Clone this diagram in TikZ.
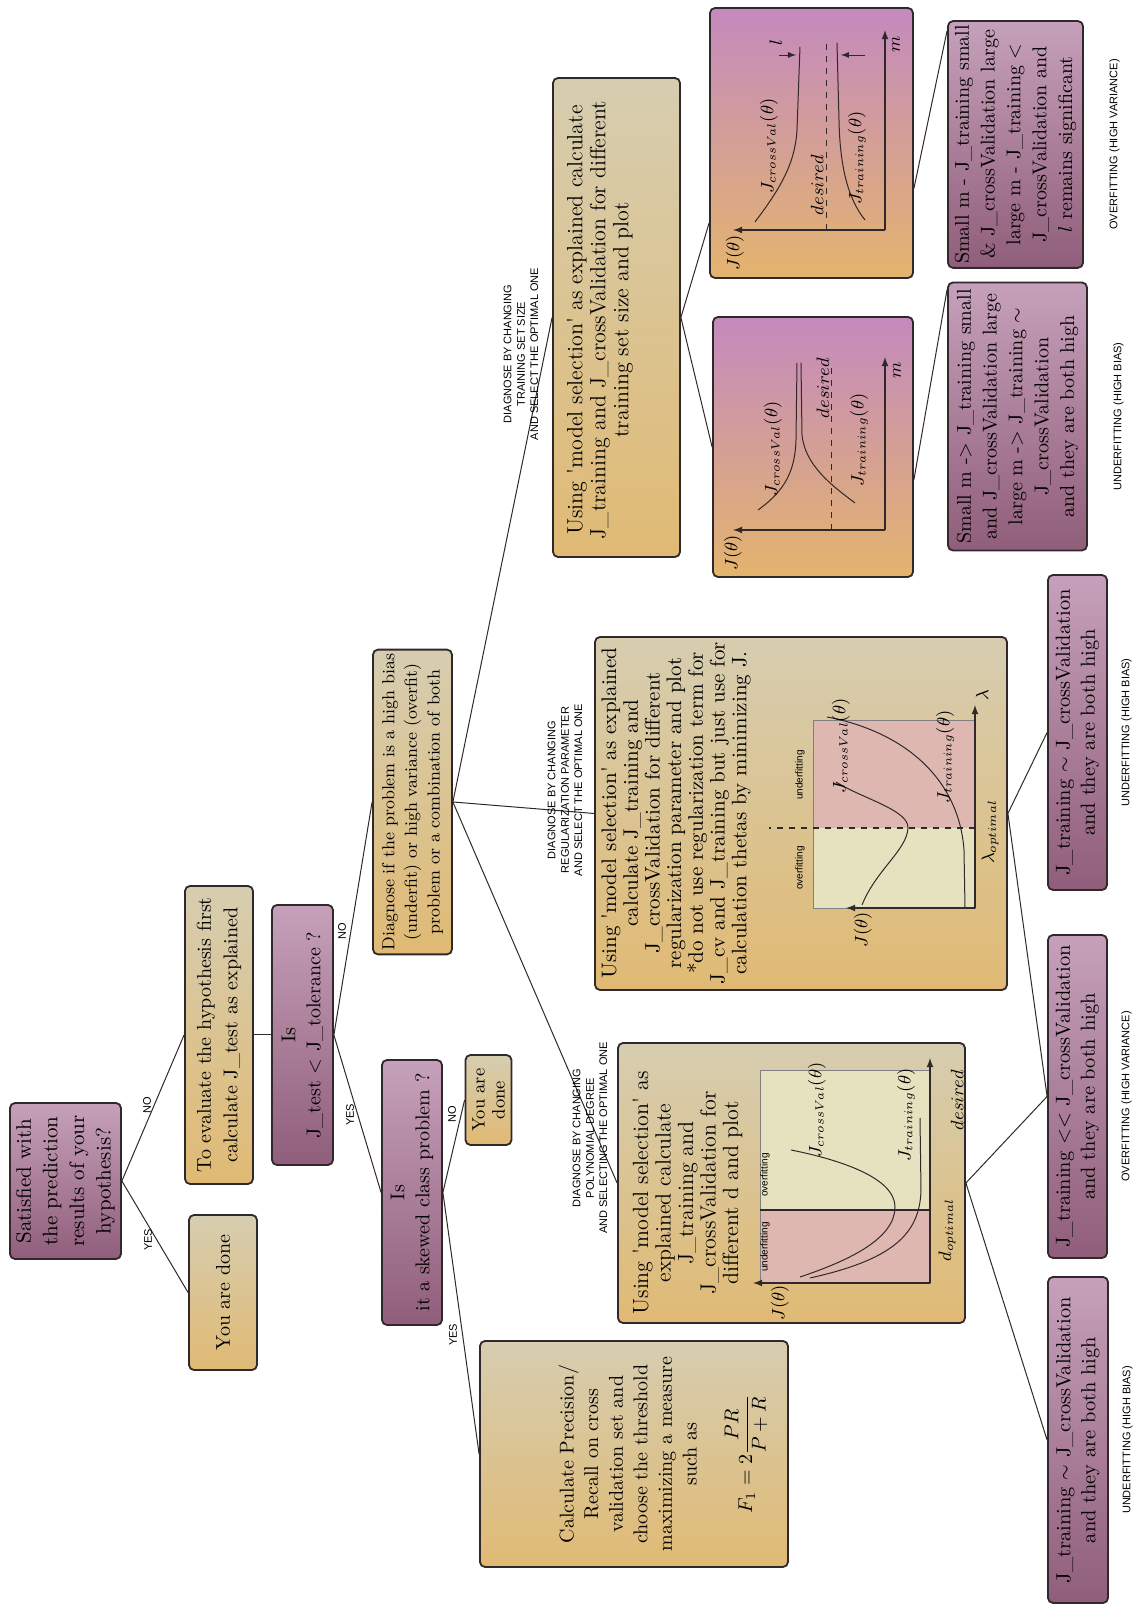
\documentclass[tikz,border=0pt]{standalone}
\usepackage{fontspec}
\usepackage{amsmath}
\newfontfamily\capsfont{Liberation Sans}
\usetikzlibrary{positioning}

\definecolor{tanlight}{RGB}{214,205,176}
\definecolor{tandark}{RGB}{224,186,116}
\definecolor{mauvelight}{RGB}{198,160,186}
\definecolor{mauvedark}{RGB}{144,94,122}
\definecolor{curvepurple}{RGB}{196,138,190}
\definecolor{curveorange}{RGB}{228,180,110}
\definecolor{edgegray}{RGB}{48,40,42}
\definecolor{underpink}{RGB}{222,184,176}
\definecolor{overlight}{RGB}{230,226,192}

\tikzset{
  >=latex,
  card/.style={draw=edgegray, line width=0.9pt, rounded corners=2.5pt,
    align=center, inner sep=2pt},
  tancard/.style={card, top color=tanlight, bottom color=tandark},
  mauvecard/.style={card, top color=mauvelight, bottom color=mauvedark},
  curvecard/.style={card, top color=curvepurple, bottom color=curveorange},
  linkline/.style={draw=edgegray, line width=0.5pt},
  branchlabel/.style={font={\capsfont\fontsize{5.5}{6.7}\selectfont},
    align=center, inner sep=0.5pt},
  regionlabel/.style={font={\capsfont\fontsize{5}{6}\selectfont}, inner sep=0.5pt},
  plotaxis/.style={->, line width=0.6pt, draw=edgegray},
  plotcurve/.style={line width=0.5pt, draw=edgegray},
  plotlabel/.style={font={\fontsize{9}{10}\selectfont}, inner sep=0.5pt},
}

\begin{document}
\begin{tikzpicture}[x=0.5pt, y=0.5pt, rotate=90, transform shape]
  \useasboundingbox (0,0) rectangle (1610,1141);

  % questions
  \node[mauvecard, minimum width=78pt, minimum height=55.5pt, font=\fontsize{10.5}{13.3}\selectfont] (root) at (429,1075.5) {Satisfied with\\the prediction\\results of your\\hypothesis?};
  \node[tancard, minimum width=77.5pt, minimum height=34pt, font=\fontsize{10}{13.3}\selectfont] (done1) at (317.5,918) {You are done};
  \node[tancard, minimum width=149pt, minimum height=34pt, font=\fontsize{10}{13.3}\selectfont] (eval) at (575,922) {To evaluate the hypothesis first\\calculate J\_test as explained};
  \node[mauvecard, minimum width=130pt, minimum height=30.5pt, font=\fontsize{10}{12.5}\selectfont] (jtest) at (575,838.5) {Is\\J\_test < J\_tolerance ?};
  \node[mauvecard, minimum width=132.5pt, minimum height=30pt, font=\fontsize{10}{12.5}\selectfont] (skew) at (417.5,729) {Is\\it a skewed class problem ?};
  \node[tancard, minimum width=45pt, minimum height=23pt, inner sep=1pt, font=\fontsize{9}{10}\selectfont] (done2) at (510,652.5) {You are\\done};
  \node[tancard, minimum width=150pt, minimum height=39.5pt, font=\fontsize{8.7}{11.3}\selectfont] (diag) at (808,728.5) {Diagnose if the problem is a high bias\\(underfit) or high variance (overfit)\\problem or a combination of both};

  % large boxes
  \node[tancard, minimum width=113pt, minimum height=154pt] (prec) at (156,507) {};
  \node[font=\fontsize{10}{12.3}\selectfont, align=center] (prectext) at (156,478) {Calculate Precision/\\Recall on cross\\validation set and\\choose the threshold\\maximizing a measure\\such as\\[13pt] $F_1 = 2\dfrac{PR}{P+R}$};
  \node[tancard, minimum width=140pt, minimum height=173.5pt] (poly) at (427,349.5) {};
  \node[font=\fontsize{11}{11.25}\selectfont, align=center] (polytext) at (417,453.5) {Using \textquotesingle model selection\textquotesingle{} as\\explained calculate\\J\_training and\\J\_crossValidation for\\different d and plot};
  \node[tancard, minimum width=176.5pt, minimum height=206pt] (reg) at (796.5,340) {};
  \node[font=\fontsize{10.5}{10.85}\selectfont, align=center] (regtext) at (797,465) {Using \textquotesingle model selection\textquotesingle{} as explained\\calculate J\_training and\\J\_crossValidation for different\\regularization parameter and plot\\*do not use regularization term for\\J\_cv and J\_training but just use for\\calculation thetas by minimizing J.};
  \node[tancard, minimum width=239.5pt, minimum height=63.5pt] (setsize) at (1292.5,524.5) {};
  \node[font=\fontsize{11}{11.5}\selectfont, align=center] (setsizetext) at (1290,541) {Using \textquotesingle model selection\textquotesingle{} as explained calculate\\J\_training and J\_crossValidation for different\\training set size and plot};
  \node[curvecard, minimum width=130pt, minimum height=100pt] (biasplot) at (1163,328) {};
  \node[curvecard, minimum width=135pt, minimum height=101.5pt] (varplot) at (1467,329.5) {};

  % leaves
  \node[mauvecard, minimum width=134pt, minimum height=69.5pt, font=\fontsize{10}{12.9}\selectfont] (biasnote) at (1193.5,123.5) {Small m -> J\_training small\\and J\_crossValidation large\\large m -> J\_training $\sim$\\J\_crossValidation\\and they are both high};
  \node[mauvecard, minimum width=122.5pt, minimum height=67.5pt, font=\fontsize{10}{12.9}\selectfont] (varnote) at (1465.5,125.5) {Small m - J\_training small\\\& J\_crossValidation large\\large m - J\_training <\\J\_crossValidation and\\$l$ remains significant};
  \node[mauvecard, minimum width=157.5pt, minimum height=29.5pt, font=\fontsize{10.2}{12.5}\selectfont] (leaf3) at (877.5,63.5) {J\_training $\sim$ J\_crossValidation\\and they are both high};
  \node[mauvecard, minimum width=161.5pt, minimum height=29.5pt, font=\fontsize{10.2}{12.5}\selectfont] (leaf2) at (513.5,63.5) {J\_training <\kern0pt< J\_crossValidation\\and they are both high};
  \node[mauvecard, minimum width=163pt, minimum height=30pt, font=\fontsize{10.2}{12.5}\selectfont] (leaf1) at (170,63) {J\_training $\sim$ J\_crossValidation\\and they are both high};

  % verdicts
  \node[branchlabel, below=6pt of leaf1] (verdict1) {UNDERFITTING (HIGH BIAS)};
  \node[branchlabel, below=6pt of leaf2] (verdict2) {OVERFITTING (HIGH VARIANCE)};
  \node[branchlabel, below=6pt of leaf3] (verdict3) {UNDERFITTING (HIGH BIAS)};
  \node[branchlabel, below=12pt of biasnote] (verdict4) {UNDERFITTING (HIGH BIAS)};
  \node[branchlabel, below=12pt of varnote] (verdict5) {OVERFITTING (HIGH VARIANCE)};

  % connectors
  \draw[linkline] (root.south) -- (done1.north);
  \draw[linkline] (root.south) -- (eval.north);
  \draw[linkline] (eval.south) -- (jtest.north);
  \draw[linkline] (jtest.south) -- (diag.north);
  \draw[linkline] (jtest.south) -- (skew.north);
  \draw[linkline] (skew.south) -- (done2.north);
  \draw[linkline] (skew.south) -- (prec.north);
  \draw[linkline] (diag.south) -- (poly.north);
  \draw[linkline] (diag.south) -- (reg.north);
  \draw[linkline] (diag.south) -- (setsize.north);
  \draw[linkline] (poly.south) -- (leaf1.north);
  \draw[linkline] (poly.south) -- (leaf2.north);
  \draw[linkline] (reg.south) -- (leaf2.north);
  \draw[linkline] (reg.south) -- (leaf3.north);
  \draw[linkline] (setsize.south) -- (biasplot.north);
  \draw[linkline] (setsize.south) -- (varplot.128);
  \draw[linkline] (biasplot.252) -- (biasnote.29);
  \draw[linkline] (varplot.246) -- (varnote.31);

  % answers on the links
  \node[branchlabel] (yes1) at (370,993) {YES};
  \node[branchlabel] (no1) at (505,994) {NO};
  \node[branchlabel] (no2) at (679,799) {NO};
  \node[branchlabel] (yes2) at (495,791) {YES};
  \node[branchlabel] (no3) at (496,689) {NO};
  \node[branchlabel] (yes3) at (275,688) {YES};
  \node[branchlabel] (degreelabel) at (472,551) {DIAGNOSE BY CHANGING\\POLYNOMIAL DEGREE\\AND SELECTING THE OPTIMAL ONE};
  \node[branchlabel] (lambdalabel) at (820,576) {DIAGNOSE BY CHANGING\\REGULARIZATION PARAMETER\\AND SELECT THE OPTIMAL ONE};
  \node[branchlabel] (sizelabel) at (1256,620) {DIAGNOSE BY CHANGING\\TRAINING SET SIZE\\AND SELECT THE OPTIMAL ONE};

  % degree plot
  \fill[underpink] (327,211) rectangle (400,381);
  \fill[overlight] (400,211) rectangle (540,381);
  \draw[gray, line width=0.3pt] (327,211) rectangle (540,381);
  \draw[edgegray, line width=0.9pt] (400,211) -- (400,381);
  \draw[plotaxis] (327,211) -- (327,388);
  \draw[plotaxis] (327,211) -- (552,211);
  \draw[plotcurve] (333,341) .. controls (350,290) and (372,246) .. (403,246) .. controls (432,246) and (450,300) .. (460,350);
  \draw[plotcurve] (332,331) .. controls (350,250) and (375,221) .. (420,220) -- (492,221);
  \node[regionlabel] (degunder) at (363,376) {underfitting};
  \node[regionlabel] (degover) at (435,376) {overfitting};
  \node[plotlabel] (degJ) at (307,361) {$J(\theta)$};
  \node[plotlabel] (degcv) at (500,324) {$J_{crossVal}(\theta)$};
  \node[plotlabel] (degtr) at (495,235) {$J_{training}(\theta)$};
  \node[plotlabel] (degopt) at (380,194) {$d_{optimal}$};
  \node[plotlabel] (degdes) at (510,184) {$desired$};

  % regularization plot
  \fill[overlight] (702,166) rectangle (782,328);
  \fill[underpink] (782,166) rectangle (890,328);
  \draw[gray, line width=0.3pt] (702,166) rectangle (890,328);
  \draw[edgegray, dashed, line width=0.6pt] (782,166) -- (782,372);
  \draw[plotaxis] (702,166) -- (702,295);
  \draw[plotaxis] (702,166) -- (905,166);
  \draw[plotcurve] (705,279) .. controls (740,265) and (760,234) .. (782,233) .. controls (800,232) and (812,280) .. (828,305);
  \draw[plotcurve] (703,176) -- (760,177) .. controls (830,182) and (878,235) .. (893,314);
  \node[regionlabel] (regover) at (742,341) {overfitting};
  \node[regionlabel] (regunder) at (835,341) {underfitting};
  \node[plotlabel] (regJ) at (680,278) {$J(\theta)$};
  \node[plotlabel] (regcv) at (864,300) {$J_{crossVal}(\theta)$};
  \node[plotlabel] (regtr) at (853,196) {$J_{training}(\theta)$};
  \node[plotlabel] (regopt) at (778,151) {$\lambda_{optimal}$};
  \node[plotlabel] (reglam) at (915,159) {$\lambda$};

  % learning curves, high bias
  \draw[plotaxis] (1080,256) -- (1080,408);
  \draw[plotaxis] (1080,256) -- (1253,256);
  \draw[edgegray, dashed, line width=0.5pt] (1080,309) -- (1243,309);
  \draw[plotcurve] (1100,383) .. controls (1120,355) and (1140,346) .. (1170,345) -- (1247,344);
  \draw[plotcurve] (1107,286) .. controls (1125,310) and (1145,336) .. (1175,339) -- (1247,340);
  \node[plotlabel] (biasJ) at (1057,408) {$J(\theta)$};
  \node[plotlabel] (biasm) at (1240,244) {$m$};
  \node[plotlabel] (biasdes) at (1222,318) {$desired$};
  \node[plotlabel, anchor=west] (biascv) at (1112,368) {$J_{crossVal}(\theta)$};
  \node[plotlabel] (biastr) at (1170,282) {$J_{training}(\theta)$};

  % learning curves, high variance
  \draw[plotaxis] (1380,256) -- (1380,408);
  \draw[plotaxis] (1380,256) -- (1580,256);
  \draw[edgegray, dashed, line width=0.5pt] (1380,314) -- (1570,314);
  \draw[plotcurve] (1388,386) .. controls (1420,362) and (1445,346) .. (1480,344) -- (1563,341);
  \draw[plotcurve] (1390,276) .. controls (1410,292) and (1440,301) .. (1490,302) -- (1567,304);
  \draw[plotaxis, line width=0.4pt] (1555,362) -- (1555,345);
  \draw[plotaxis, line width=0.4pt] (1555,276) -- (1555,300);
  \node[plotlabel] (varJ) at (1357,406) {$J(\theta)$};
  \node[plotlabel] (varm) at (1566,245) {$m$};
  \node[plotlabel] (vardes) at (1425,324) {$desired$};
  \node[plotlabel, anchor=west] (varcv) at (1415,372) {$J_{crossVal}(\theta)$};
  \node[plotlabel] (vartr) at (1452,284) {$J_{training}(\theta)$};
  \node[plotlabel] (vargap) at (1567,365) {$l$};
\end{tikzpicture}
\end{document}
